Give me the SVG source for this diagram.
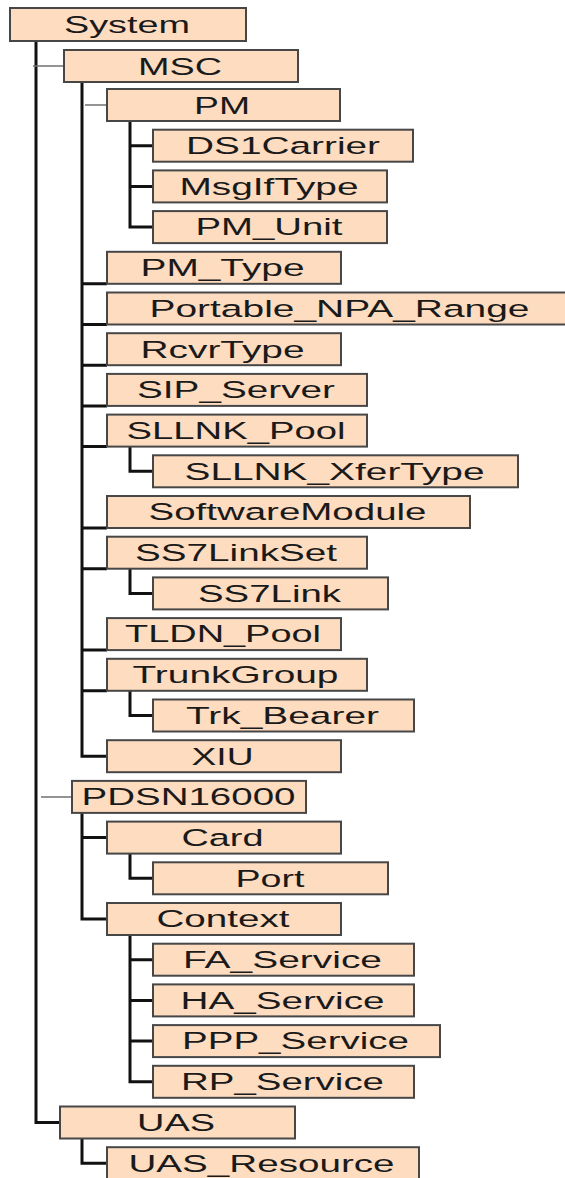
<svg xmlns="http://www.w3.org/2000/svg" width="565" height="1178" viewBox="0 0 565 1178">
<style>
.b{fill:#FEDCC0;stroke:#474747;stroke-width:2}
.t{font-family:"Liberation Sans",Arial,sans-serif;font-size:24.5px;fill:#1a1a1a;text-anchor:middle}
.k{fill:none;stroke:#111;stroke-width:3;stroke-linejoin:miter;stroke-linecap:butt}
.g{fill:none;stroke:#707070;stroke-width:1.5}
</style>
<rect width="565" height="1178" fill="#fff"/>
<g id="connectors">
<path class="k" d="M36,41 V1122.5 H60"/>
<path class="g" d="M33,66 H64"/>
<path class="g" d="M41,797 H72"/>
<path class="k" d="M82,82 V756.2 H107"/>
<path class="g" d="M85,105 H107"/>
<path class="k" d="M82,283.8 H107 M82,324.5 H107 M82,365.2 H107 M82,405.9 H107 M82,446.6 H107 M82,528 H107 M82,568.7 H107 M82,650.1 H107 M82,690.8 H107"/>
<path class="k" d="M130,121 V227.1 H153 M130,145.7 H153 M130,186.4 H153"/>
<path class="k" d="M130,446.6 V471.3 H153"/>
<path class="k" d="M130,568.7 V593.4 H153"/>
<path class="k" d="M130,690.8 V715.5 H153"/>
<path class="k" d="M82,813 V919 H107 M82,837.6 H107"/>
<path class="k" d="M130,853.6 V878.3 H153"/>
<path class="k" d="M130,935 V1081.8 H153 M130,959.7 H153 M130,1000.4 H153 M130,1041.1 H153"/>
<path class="k" d="M82,1138.5 V1163.2 H107"/>
</g>
<g id="n-system"><rect class="b" x="10" y="8" width="236" height="33"/><text class="t" x="127" y="32.5" textLength="126" lengthAdjust="spacingAndGlyphs">System</text></g>
<g id="n-msc"><rect class="b" x="64" y="50" width="234" height="32"/><text class="t" x="180" y="74.5" textLength="84" lengthAdjust="spacingAndGlyphs">MSC</text></g>
<g id="n-pm"><rect class="b" x="107" y="89" width="233" height="32"/><text class="t" x="222" y="113.5" textLength="56" lengthAdjust="spacingAndGlyphs">PM</text></g>
<g id="n-ds1carrier"><rect class="b" x="153" y="129.7" width="260" height="32"/><text class="t" x="283" y="154" textLength="194" lengthAdjust="spacingAndGlyphs">DS1Carrier</text></g>
<g id="n-msgiftype"><rect class="b" x="153" y="170.4" width="234" height="32"/><text class="t" x="269" y="194.7" textLength="179" lengthAdjust="spacingAndGlyphs">MsgIfType</text></g>
<g id="n-pm-unit"><rect class="b" x="153" y="211.1" width="234" height="32"/><text class="t" x="269" y="235.4" textLength="147" lengthAdjust="spacingAndGlyphs">PM_Unit</text></g>
<g id="n-pm-type"><rect class="b" x="107" y="251.8" width="234" height="32"/><text class="t" x="222.5" y="276.1" textLength="164" lengthAdjust="spacingAndGlyphs">PM_Type</text></g>
<g id="n-portable"><rect class="b" x="107" y="292.5" width="465" height="32"/><text class="t" x="339.5" y="316.8" textLength="380" lengthAdjust="spacingAndGlyphs">Portable_NPA_Range</text></g>
<g id="n-rcvrtype"><rect class="b" x="107" y="333.2" width="234" height="32"/><text class="t" x="222.5" y="357.5" textLength="164" lengthAdjust="spacingAndGlyphs">RcvrType</text></g>
<g id="n-sip-server"><rect class="b" x="107" y="373.9" width="260" height="32"/><text class="t" x="236" y="398.2" textLength="198" lengthAdjust="spacingAndGlyphs">SIP_Server</text></g>
<g id="n-sllnk-pool"><rect class="b" x="107" y="414.6" width="260" height="32"/><text class="t" x="236" y="438.9" textLength="219" lengthAdjust="spacingAndGlyphs">SLLNK_Pool</text></g>
<g id="n-sllnk-xfertype"><rect class="b" x="153" y="455.3" width="365" height="32"/><text class="t" x="334.5" y="479.6" textLength="300" lengthAdjust="spacingAndGlyphs">SLLNK_XferType</text></g>
<g id="n-softwaremodule"><rect class="b" x="107" y="496" width="363" height="32"/><text class="t" x="287.5" y="520.3" textLength="278" lengthAdjust="spacingAndGlyphs">SoftwareModule</text></g>
<g id="n-ss7linkset"><rect class="b" x="107" y="536.7" width="260" height="32"/><text class="t" x="236" y="561" textLength="202" lengthAdjust="spacingAndGlyphs">SS7LinkSet</text></g>
<g id="n-ss7link"><rect class="b" x="153" y="577.4" width="235" height="32"/><text class="t" x="269.5" y="601.7" textLength="143" lengthAdjust="spacingAndGlyphs">SS7Link</text></g>
<g id="n-tldn-pool"><rect class="b" x="107" y="618.1" width="234" height="32"/><text class="t" x="223" y="642.4" textLength="196" lengthAdjust="spacingAndGlyphs">TLDN_Pool</text></g>
<g id="n-trunkgroup"><rect class="b" x="107" y="658.8" width="260" height="32"/><text class="t" x="235.5" y="683.1" textLength="206" lengthAdjust="spacingAndGlyphs">TrunkGroup</text></g>
<g id="n-trk-bearer"><rect class="b" x="153" y="699.5" width="261" height="32"/><text class="t" x="282.5" y="723.8" textLength="193" lengthAdjust="spacingAndGlyphs">Trk_Bearer</text></g>
<g id="n-xiu"><rect class="b" x="107" y="740.2" width="234" height="32"/><text class="t" x="222.5" y="764.5" textLength="62" lengthAdjust="spacingAndGlyphs">XIU</text></g>
<g id="n-pdsn16000"><rect class="b" x="72" y="780.9" width="234" height="32"/><text class="t" x="188.5" y="805.2" textLength="214" lengthAdjust="spacingAndGlyphs">PDSN16000</text></g>
<g id="n-card"><rect class="b" x="107" y="821.6" width="234" height="32"/><text class="t" x="222.5" y="845.9" textLength="82" lengthAdjust="spacingAndGlyphs">Card</text></g>
<g id="n-port"><rect class="b" x="153" y="862.3" width="235" height="32"/><text class="t" x="270" y="886.6" textLength="69" lengthAdjust="spacingAndGlyphs">Port</text></g>
<g id="n-context"><rect class="b" x="107" y="903" width="234" height="32"/><text class="t" x="223" y="927.3" textLength="133" lengthAdjust="spacingAndGlyphs">Context</text></g>
<g id="n-fa-service"><rect class="b" x="153" y="943.7" width="261" height="32"/><text class="t" x="282.5" y="968" textLength="199" lengthAdjust="spacingAndGlyphs">FA_Service</text></g>
<g id="n-ha-service"><rect class="b" x="153" y="984.4" width="261" height="32"/><text class="t" x="282.5" y="1008.7" textLength="204" lengthAdjust="spacingAndGlyphs">HA_Service</text></g>
<g id="n-ppp-service"><rect class="b" x="153" y="1025.1" width="287" height="32"/><text class="t" x="295.5" y="1049.4" textLength="227" lengthAdjust="spacingAndGlyphs">PPP_Service</text></g>
<g id="n-rp-service"><rect class="b" x="153" y="1065.8" width="261" height="32"/><text class="t" x="282.5" y="1090.1" textLength="203" lengthAdjust="spacingAndGlyphs">RP_Service</text></g>
<g id="n-uas"><rect class="b" x="60" y="1106.5" width="235" height="32"/><text class="t" x="176" y="1130.8" textLength="78" lengthAdjust="spacingAndGlyphs">UAS</text></g>
<g id="n-uas-resource"><rect class="b" x="107" y="1147.2" width="312" height="40"/><text class="t" x="261.5" y="1171.5" textLength="266" lengthAdjust="spacingAndGlyphs">UAS_Resource</text></g>
</svg>
